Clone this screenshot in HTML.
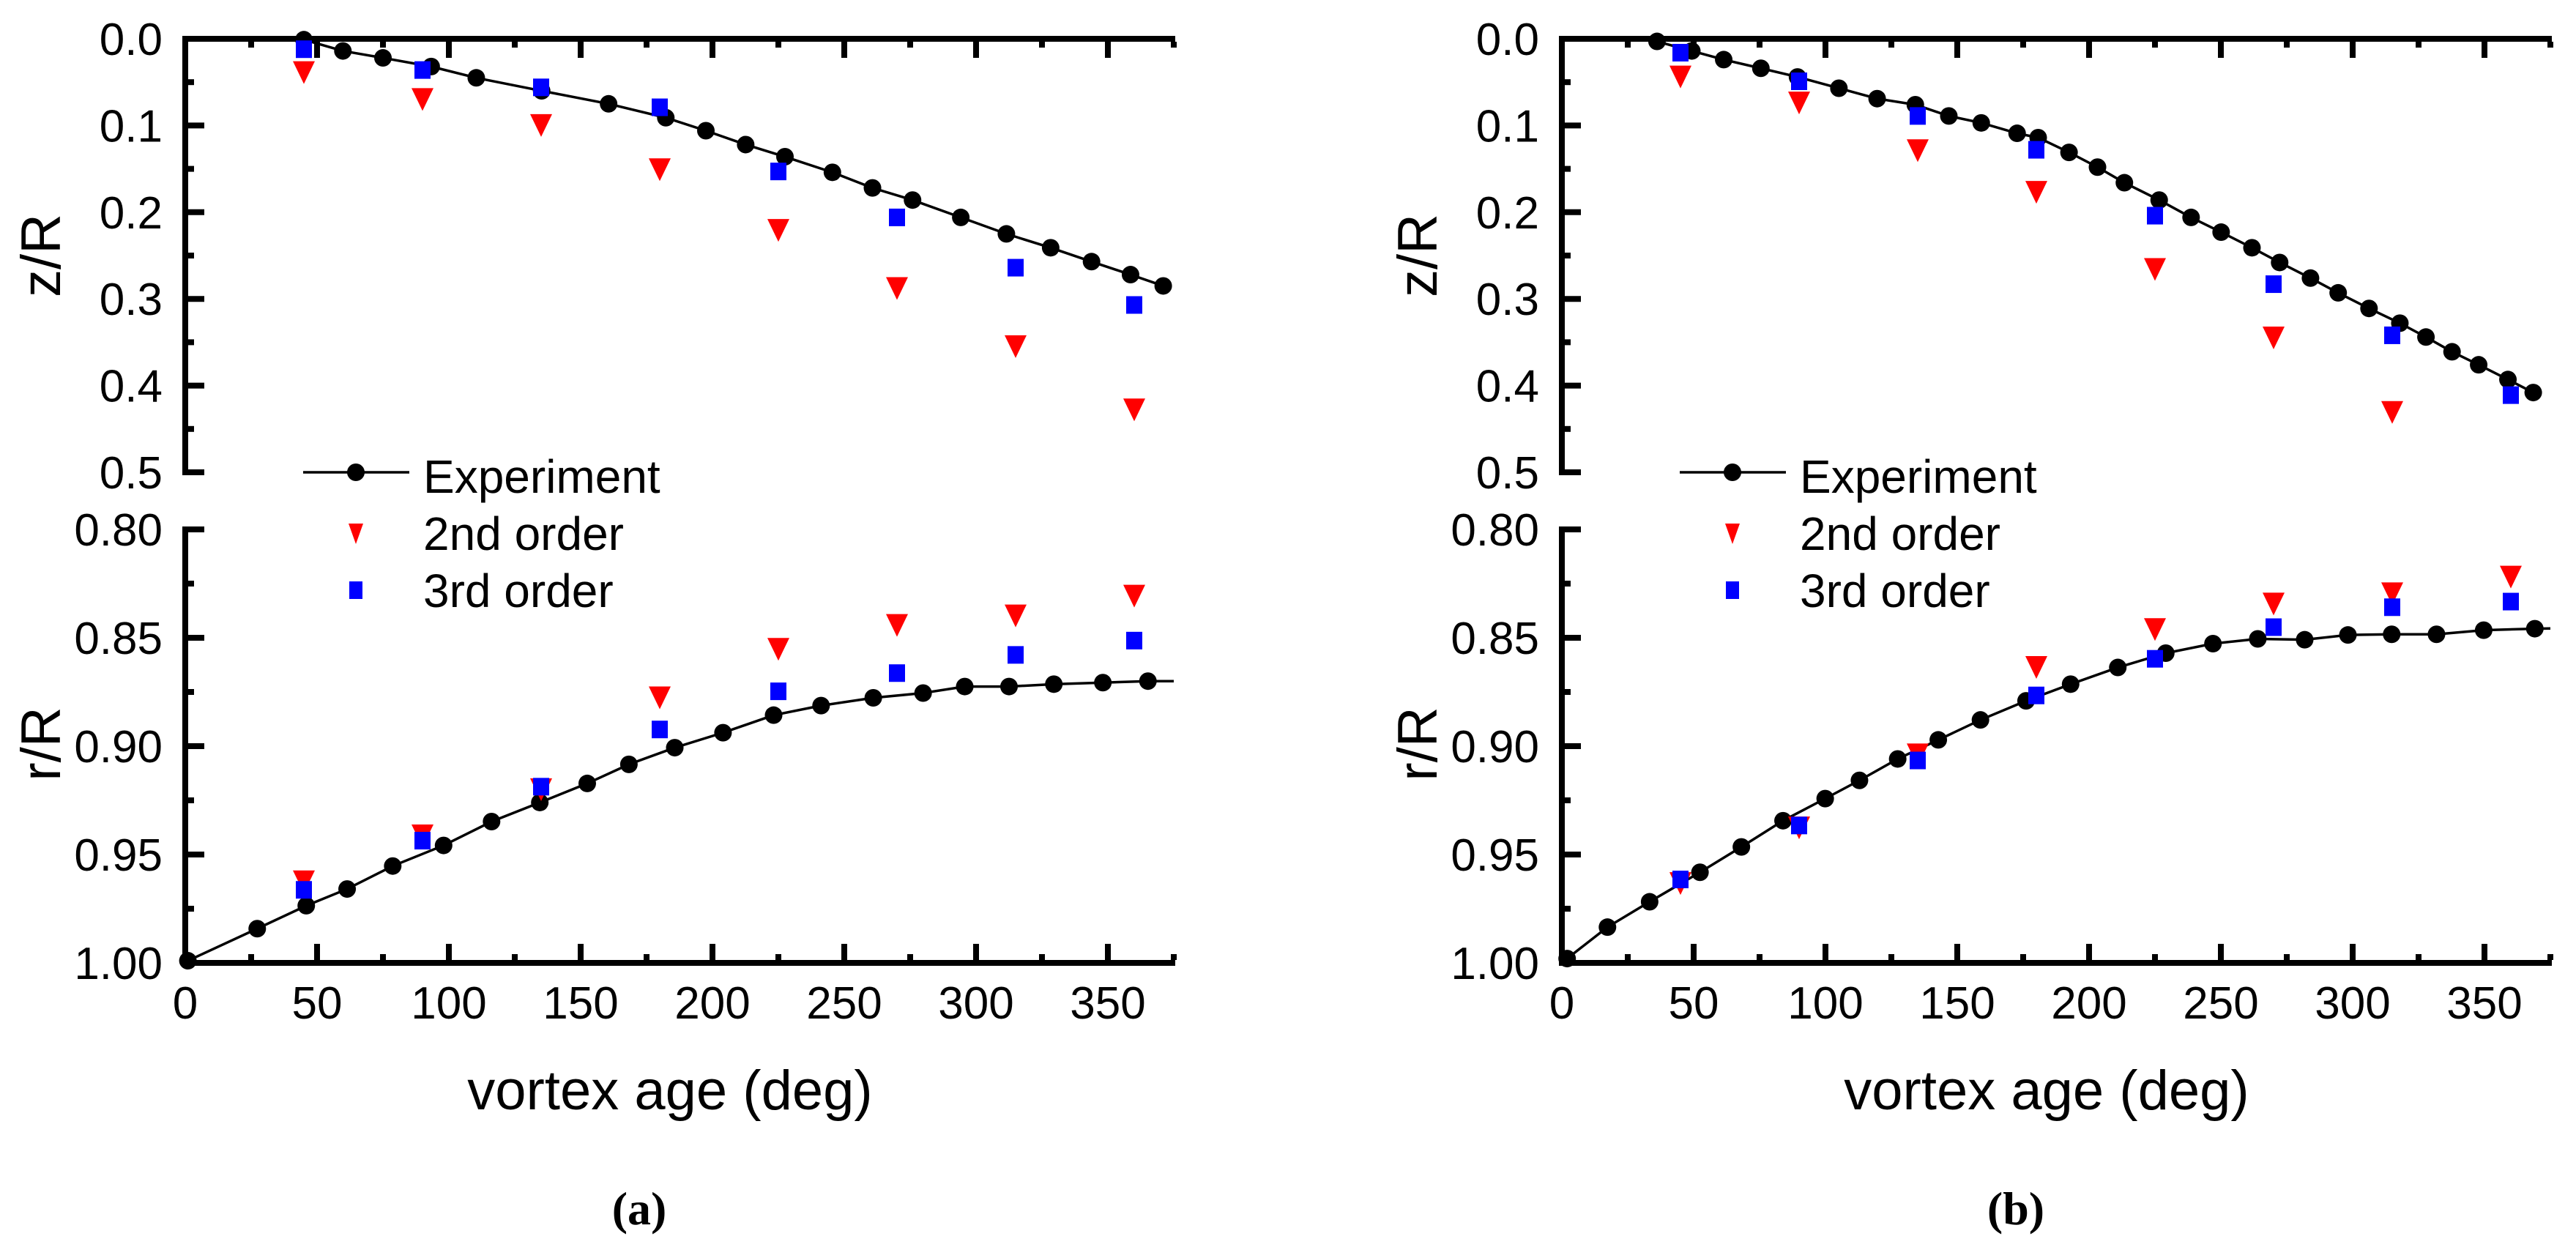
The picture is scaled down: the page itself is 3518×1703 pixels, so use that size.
<!DOCTYPE html>
<html><head><meta charset="utf-8"><style>
html,body{margin:0;padding:0;background:#fff;}
svg{display:block;font-family:"Liberation Sans",sans-serif;}
</style></head><body>
<svg id="fig" width="3518" height="1703" viewBox="0 0 3518 1703" xmlns="http://www.w3.org/2000/svg"></svg>
<script>
// ---- Panel (a) data ----
const expZ_a_x = [45,59.8,75,93.3,110.4,135.2,160.6,182.3,197.5,212.6,227.5,245.5,260.7,275.9,294.2,311.5,328.3,343.8,358.6,371];
const expZ_a_y = [0.001,0.014,0.022,0.032,0.045,0.060,0.075,0.091,0.106,0.122,0.136,0.154,0.172,0.186,0.206,0.225,0.241,0.257,0.272,0.285];
const modelX = [45,90,135,180,225,270,315,360];
const ord2Z_a = [0.039,0.070,0.100,0.151,0.221,0.288,0.355,0.428];
const ord3Z_a = [0.012,0.036,0.056,0.079,0.153,0.206,0.264,0.307];
const expR_a_x = [1,27.3,45.9,61.4,78.7,98,116.2,134.5,152.5,168.3,185.7,204,223.2,241.2,261,279.9,295.7,312.5,329.5,348.1,365.2,375];
const expR_a_y = [0.999,0.9842,0.9736,0.9659,0.9553,0.9458,0.9348,0.9260,0.9172,0.9084,0.9007,0.8938,0.8857,0.8813,0.8777,0.8755,0.8725,0.8725,0.8714,0.8707,0.8700,0.8700];
const expR_a_markers = 21;
const ord2R_a = [0.9626,0.9414,0.9201,0.8777,0.8553,0.8443,0.8399,0.8308];
const ord3R_a = [0.9663,0.9436,0.9187,0.8923,0.8747,0.8663,0.8579,0.8513];
// ---- Panel (b) data ----
const expZ_b_x = [36.1,49.3,61.4,75.5,89.4,105.1,119.6,134.1,146.8,159.1,172.7,180.7,192.4,203.2,213.4,226.6,238.7,250.1,261.8,272.3,284,294.5,306.2,317.9,327.8,337.7,347.8,358.9,368.5];
const expZ_b_y = [0.003,0.014,0.024,0.034,0.044,0.057,0.069,0.076,0.089,0.097,0.109,0.114,0.131,0.148,0.166,0.186,0.206,0.223,0.241,0.258,0.276,0.293,0.311,0.328,0.344,0.361,0.376,0.393,0.408];
const ord2Z_b = [0.044,0.074,0.129,0.177,0.266,0.345,0.431,null];
const ord3Z_b = [0.016,0.049,0.089,0.128,0.204,0.283,0.342,0.411];
const expR_b_x = [2,17.3,33.3,52.4,68.1,83.9,99.9,112.9,127.4,142.8,158.8,176.1,193,210.9,229.1,247,264,281.8,298.2,314.8,331.8,349.7,369.1,375];
const expR_b_y = [0.998,0.9835,0.9718,0.9582,0.9465,0.9344,0.9242,0.9158,0.9059,0.8971,0.8879,0.8791,0.8714,0.8637,0.8571,0.8527,0.8505,0.8509,0.8487,0.8484,0.8484,0.8465,0.8458,0.8457];
const expR_b_markers = 23;
const ord2R_b = [0.9634,0.9377,0.9040,0.8637,0.8462,0.8344,0.8297,0.8220];
const ord3R_b = [0.9615,0.9366,0.9066,0.8766,0.8597,0.8451,0.8359,0.8333];
// ---- tick labels ----
const xTicks = [0,50,100,150,200,250,300,350];
const zTicks = ["0.0","0.1","0.2","0.3","0.4","0.5"];
const rTicks = ["0.80","0.85","0.90","0.95","1.00"];

const NS="http://www.w3.org/2000/svg";
const svg=document.getElementById('fig');
function mk(tag,attrs,parent){const e=document.createElementNS(NS,tag);for(const k in attrs)e.setAttribute(k,attrs[k]);(parent||svg).appendChild(e);return e;}

function panel(off,letter,ez_x,ez_y,o2z,o3z,er_x,er_y,erN,o2r,o3r){
  const g=mk('g',{});
  
  
  const X0=253+off, X1=1605+off;
  const sx=v=>X0+v*(1350/375);
  const zy=v=>53+v*1184;
  const ry=v=>723+(v-0.8)*2960;
  const LW=8;
  const axT=mk('path',{d:`M${X0} ${zy(0.5)+4} V${zy(0)} H${X1}`,fill:'none',stroke:'#000','stroke-width':LW},g);
  
  
  const axB=mk('path',{d:`M${X0} ${ry(0.8)-4} V${ry(1)} H${X1}`,fill:'none',stroke:'#000','stroke-width':LW},g);
  
  
  for(let v=0;v<=375;v+=25){
    const major=v%50===0, L=major?22:8;
    if(v>0){
      mk('line',{x1:sx(v),x2:sx(v),y1:zy(0)+4,y2:zy(0)+4+L,stroke:'#000','stroke-width':LW},g);
      mk('line',{x1:sx(v),x2:sx(v),y1:ry(1)-4,y2:ry(1)-4-L,stroke:'#000','stroke-width':LW},g);
    }
  }
  xTicks.forEach(v=>{
    const t=mk('text',{x:sx(v),y:ry(1)+76,'font-size':62,'text-anchor':'middle'},g);
    t.textContent=v;
    
    
  });
  for(let i=0;i<=10;i++){
    const v=i*0.05, major=i%2===0, L=major?22:8;
    if(i>0) mk('line',{x1:X0+4,x2:X0+4+L,y1:zy(v),y2:zy(v),stroke:'#000','stroke-width':LW},g);
  }
  zTicks.forEach((s,i)=>{
    const t=mk('text',{x:X0-31,y:zy(i*0.1)+22,'font-size':62,'text-anchor':'end'},g);
    t.textContent=s;
    
    
  });
  for(let i=0;i<=8;i++){
    const v=0.8+i*0.025, major=i%2===0, L=major?22:8;
    if(i<8) mk('line',{x1:X0+4,x2:X0+4+L,y1:ry(v),y2:ry(v),stroke:'#000','stroke-width':LW},g);
  }
  rTicks.forEach((s,i)=>{
    const t=mk('text',{x:X0-31,y:ry(0.8+i*0.05)+22,'font-size':62,'text-anchor':'end'},g);
    t.textContent=s;
    
    
  });
  let t=mk('text',{x:0,y:0,'font-size':76,'text-anchor':'middle',transform:`translate(${off+82},${349}) rotate(-90)`},g);
  t.textContent='z/R';
  
  
  t=mk('text',{x:0,y:0,'font-size':76,'text-anchor':'middle',transform:`translate(${off+82},${1016}) rotate(-90)`},g);
  t.textContent='r/R';
  
  
  t=mk('text',{x:915+off,y:1515,'font-size':76,'text-anchor':'middle'},g);
  t.textContent='vortex age (deg)';
  
  
  t=mk('text',{x:873+off,y:1672,'font-size':64,'font-weight':'bold','text-anchor':'middle','font-family':'Liberation Serif, serif'},g);
  t.textContent='('+letter+')';
  
  

  function line(xs,ys,yf,n){
    const pts=xs.map((x,i)=>sx(x)+','+yf(ys[i])).join(' ');
    const pl=mk('polyline',{points:pts,fill:'none',stroke:'#000','stroke-width':3.5},g);
    
    
    xs.forEach((x,i)=>{ if(i>=n) return;
      const c=mk('circle',{cx:sx(x),cy:yf(ys[i]),r:12,fill:'#000'},g);
      
      
    });
  }
  function tri(xs,ys,yf,w,h,name){
    xs.forEach((x,i)=>{ if(ys[i]==null) return;
      const cx=sx(x), cy=yf(ys[i]);
      const p=mk('polygon',{points:`${cx-w/2},${cy-h/2} ${cx+w/2},${cy-h/2} ${cx},${cy+h/2}`,fill:'#ff0000'},g);
      
      
    });
  }
  function sq(xs,ys,yf,name){
    xs.forEach((x,i)=>{ if(ys[i]==null) return;
      const r=mk('rect',{x:sx(x)-11,y:yf(ys[i])-12,width:22,height:24,fill:'#0000ff'},g);
      
      
    });
  }
  line(ez_x,ez_y,zy,ez_x.length);
  tri(modelX,o2z,zy,30,31,'second-order-z-point');
  sq(modelX,o3z,zy,'third-order-z-point');
  line(er_x,er_y,ry,erN);
  tri(modelX,o2r,ry,30,31,'second-order-r-point');
  sq(modelX,o3r,ry,'third-order-r-point');

  const lg=mk('g',{},g);
  
  
  mk('line',{x1:414+off,x2:559+off,y1:645,y2:645,stroke:'#000','stroke-width':3.5},lg);
  mk('circle',{cx:486+off,cy:645,r:12,fill:'#000'},lg);
  const lx=486+off;
  mk('polygon',{points:`${lx-10},${715} ${lx+10},${715} ${lx},${743}`,fill:'#ff0000'},lg);
  mk('rect',{x:lx-9,y:794,width:18,height:24,fill:'#0000ff'},lg);
  [['Experiment',673],['2nd order',751],['3rd order',829]].forEach(([s,y])=>{
    const tt=mk('text',{x:578+off,y:y,'font-size':64},lg);
    tt.textContent=s;
    
    
  });
}
panel(0,'a',expZ_a_x,expZ_a_y,ord2Z_a,ord3Z_a,expR_a_x,expR_a_y,expR_a_markers,ord2R_a,ord3R_a);
panel(1880,'b',expZ_b_x,expZ_b_y,ord2Z_b,ord3Z_b,expR_b_x,expR_b_y,expR_b_markers,ord2R_b,ord3R_b);
</script>
</body></html>
